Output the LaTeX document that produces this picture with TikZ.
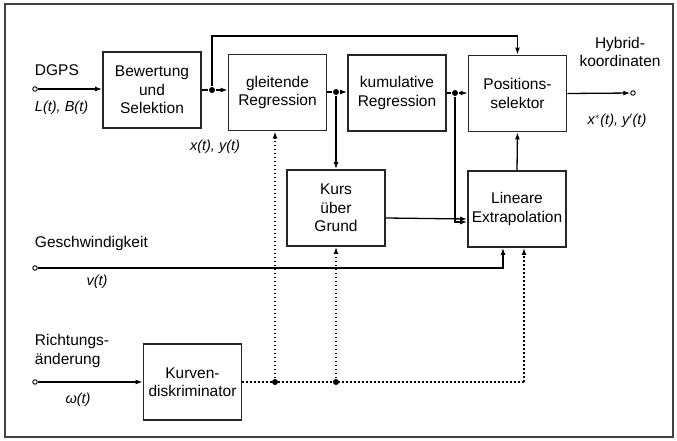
\documentclass[tikz,border=0pt]{standalone}
\usepackage{fontspec}
\setmainfont{Liberation Sans}
\usetikzlibrary{arrows.meta}

\begin{document}
\begin{tikzpicture}[x=1pt,y=-1pt,line width=1.3pt,font=\fontsize{15.5}{18.5}\selectfont]
        \tikzstyle{block}=[draw,line width=1.9pt,draw=black!85,minimum width=98pt,minimum height=76pt,inner sep=1pt,align=center]
        \tikzstyle{arr}=[-{Latex[length=7pt,width=5pt]}]
        \tikzstyle{dots}=[line width=1.6pt,dash pattern=on 1.6pt off 2.4pt]
        \tikzstyle{port}=[draw,circle,inner sep=0pt,minimum size=4.5pt,line width=0.9pt,fill=white]
        \tikzstyle{junc}=[fill,circle,inner sep=0pt,minimum size=6pt]
        \tikzstyle{sig}=[font=\fontsize{14.5}{17}\selectfont\itshape]
        \useasboundingbox (0,0) rectangle (677,441);
        \draw[line width=1.6pt,black!75] (5,4) rectangle (673,437);
        % Bloecke
        \node[block] (bew) at (152,90) {Bewertung\\und\\Selektion};
        \node[block] (glt) at (277.5,92.5) {gleitende\\Regression};
        \node[block] (kum) at (397,93) {kumulative\\Regression};
        \node[block] (pos) at (517.5,93.5) {Positions-\\selektor};
        \node[block] (kurs) at (336,208) {Kurs\\über\\Grund};
        \node[block] (lin) at (517,209) {Lineare\\Extrapolation};
        \node[block] (kdis) at (192.5,382) {Kurven-\\diskriminator};
        % Ein- und Ausgaenge
        \node[port] (dgps) at (35,89) {};
        \node[port] (vin) at (35,268) {};
        \node[port] (win) at (35,382) {};
        \node[port] (hyb) at (633,93) {};
        \node[anchor=west] (ldgps) at (31,70) {DGPS};
        \node[sig,anchor=west] (llb) at (31,108) {L(t), B(t)};
        \node[sig] (lxy) at (215,147) {x(t), y(t)};
        \node[align=center] (lhyb) at (620,52) {Hybrid-\\koordinaten};
        \node[sig] (lxys) at (617,121) {x$^*$(t), y$'$(t)};
        \node[anchor=west] (lv) at (31,243) {Geschwindigkeit};
        \node[sig] (lvt) at (97,282) {v(t)};
        \node[align=left,anchor=west] (lw) at (31,351) {Richtungs-\\änderung};
        \node[sig] (lwt) at (78,400) {ω(t)};
        % Knotenpunkte
        \node[junc] (j1) at (212,90) {};
        \node[junc] (j2) at (336,92) {};
        \node[junc] (j3) at (455,93) {};
        \node[junc] (d1) at (275,382) {};
        \node[junc] (d2) at (336,382) {};
        \coordinate (top) at (212,36);
        \coordinate (vend) at (503,268);
        \coordinate (dend) at (524,382);
        % Verbindungen
        \draw[arr] (dgps) -- (bew.west |- dgps);
        \draw (bew.east |- j1) -- (j1);
        \draw[arr] (j1) -- (glt.west |- j1);
        \draw[arr] (j1) -- (top) -| (pos.north);
        \draw (glt.east |- j2) -- (j2);
        \draw[arr] (j2) -- (kum.west |- j2);
        \draw[arr] (j2) -- (kurs.north);
        \draw (kum.east |- j3) -- (j3);
        \draw[arr] (j3) -- (pos.west |- j3);
        \draw[arr] (j3) |- ([yshift=-13pt]lin.west);
        \draw[arr] (pos.east) -- (hyb);
        \draw[arr] (lin.north) -- (pos.south);
        \draw[arr] ([yshift=-10pt]kurs.east) -- ([yshift=-10pt]lin.west);
        \draw[arr] (vin) -- (vend) -- (vend |- lin.south);
        \draw[arr] (win) -- (kdis.west);
        \draw[dots] (kdis.east) -- (dend);
        \draw[dots,arr] (dend) -- (dend |- lin.south);
        \draw[dots,arr] (d1) -- (d1 |- glt.south);
        \draw[dots,arr] (d2) -- (kurs.south);
    \end{tikzpicture}
\end{document}
